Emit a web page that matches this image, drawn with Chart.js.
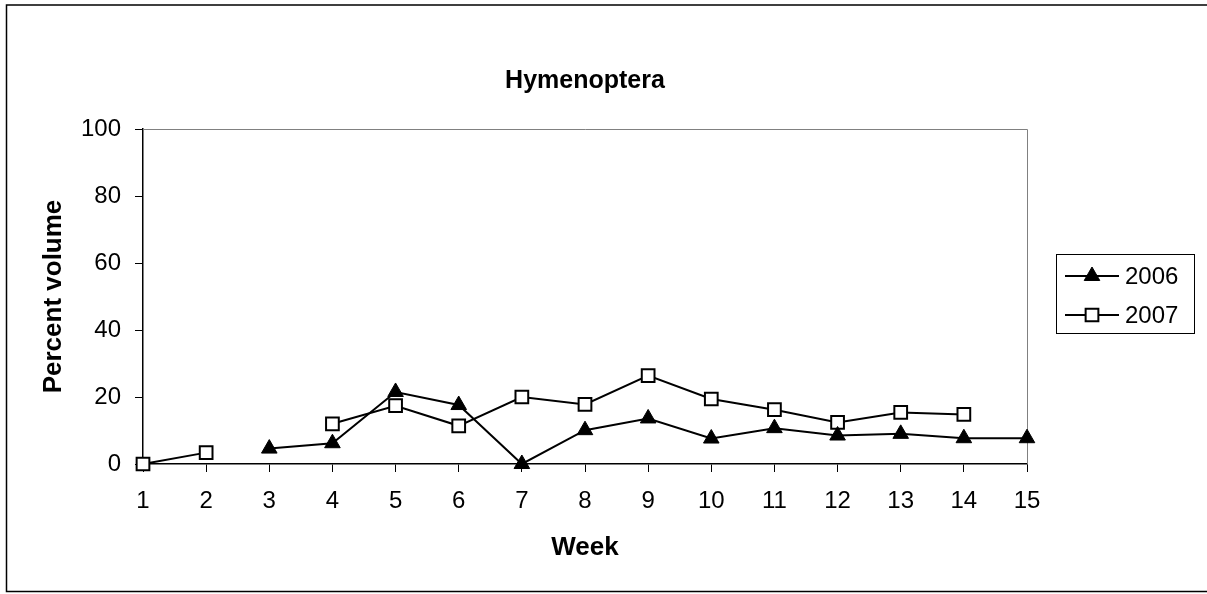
<!DOCTYPE html>
<html>
<head>
<meta charset="utf-8">
<title>Hymenoptera</title>
<script src="https://cdn.jsdelivr.net/npm/chart.js@4.4.1/dist/chart.umd.min.js"></script>
<style>
    html, body { margin: 0; padding: 0; background: #ffffff; }
    #wrap { width: 1207px; height: 594px; }
</style>
</head>
<body>
<div id="wrap"><canvas id="hymChart" width="1207" height="594"></canvas></div>
<script>
'use strict';

/* ── Data ──────────────────────────────────────────────────────────────── */

const WEEKS = ['1', '2', '3', '4', '5', '6', '7', '8', '9', '10', '11', '12', '13', '14', '15'];
const SERIES_NAMES = ['2006', '2007'];
const VALUES_2006 = [null, null, 4.6, 6.2, 21.5, 17.6, 0, 10.1, 13.6, 7.6, 10.7, 8.5, 9.0, 7.7, 7.7];
const VALUES_2007 = [0, 3.4, null, 12.0, 17.4, 11.4, 20.0, 17.8, 26.4, 19.4, 16.2, 12.4, 15.4, 14.8, null];
const Y_TICKS = [0, 20, 40, 60, 80, 100];

const FONT = '"Liberation Sans", Arial, Helvetica, sans-serif';

/* ── Frame + legend plugin ─────────────────────────────────────────────── */

// Excel-style chart: outer border, grey plot frame, boxed legend on the right
const excelFrame = {
    id: 'excelFrame',
    beforeDraw(chart) {
        const ctx = chart.ctx;
        ctx.save();
        ctx.strokeStyle = '#000';
        ctx.lineWidth = 1.5;
        ctx.strokeRect(6.5, 5, 1212, 586.5);
        ctx.restore();
    },
    beforeDatasetsDraw(chart) {
        const { ctx, chartArea: a } = chart;
        ctx.save();
        ctx.strokeStyle = '#808080';
        ctx.lineWidth = 1;
        ctx.beginPath();
        ctx.moveTo(a.left, a.top + 0.5);
        ctx.lineTo(a.right + 0.5, a.top + 0.5);
        ctx.lineTo(a.right + 0.5, a.bottom);
        ctx.stroke();
        ctx.restore();
    },
    afterDraw(chart) {
        const ctx = chart.ctx;
        ctx.save();
        ctx.strokeStyle = '#000';
        ctx.lineWidth = 1;
        ctx.strokeRect(1056.5, 254.5, 138, 79);

        chart.data.datasets.forEach((ds, i) => {
            const y = 276 + i * 39;
            ctx.strokeStyle = ds.borderColor;
            ctx.lineWidth = ds.borderWidth;
            ctx.beginPath();
            ctx.moveTo(1065, y);
            ctx.lineTo(1119, y);
            ctx.stroke();

            ctx.fillStyle = ds.pointBackgroundColor;
            ctx.strokeStyle = ds.pointBorderColor;
            ctx.lineWidth = ds.pointBorderWidth;
            Chart.helpers.drawPoint(ctx, {
                pointStyle: ds.pointStyle,
                radius: ds.pointRadius,
                borderWidth: ds.pointBorderWidth,
                rotation: 0,
            }, 1092, y);

            ctx.fillStyle = '#000';
            ctx.font = '24px ' + FONT;
            ctx.textAlign = 'left';
            ctx.textBaseline = 'middle';
            ctx.fillText(ds.label, 1125, y + 1);
        });
        ctx.restore();
    },
};

/* ── Chart ─────────────────────────────────────────────────────────────── */

const axisTicks = { color: '#000', font: { family: FONT, size: 24 }, padding: 14 };
const axisGrid = { drawOnChartArea: false, drawTicks: true, tickLength: 8, tickColor: '#000', tickWidth: 1 };
const axisBorder = { display: true, color: '#000', width: 1.5 };

new Chart(document.getElementById('hymChart'), {
    type: 'line',
    data: {
        labels: WEEKS,
        datasets: [{
            label: SERIES_NAMES[0],
            data: VALUES_2006,
            borderColor: '#000',
            borderWidth: 2,
            pointStyle: 'triangle',
            pointRadius: 9,
            pointBackgroundColor: '#000',
            pointBorderColor: '#000',
            pointBorderWidth: 1,
            tension: 0,
            clip: false,
        }, {
            label: SERIES_NAMES[1],
            data: VALUES_2007,
            borderColor: '#000',
            borderWidth: 2,
            pointStyle: 'rect',
            pointRadius: 9,
            pointBackgroundColor: '#fff',
            pointBorderColor: '#000',
            pointBorderWidth: 2,
            tension: 0,
            clip: false,
        }],
    },
    options: {
        responsive: false,
        animation: false,
        events: [],
        layout: { padding: { left: 0, top: 0, right: 180, bottom: 0 } },
        plugins: {
            legend: { display: false },
            tooltip: { enabled: false },
            title: {
                display: true,
                fullSize: false,
                text: 'Hymenoptera',
                color: '#000',
                font: { family: FONT, size: 25, weight: 'bold', lineHeight: 1.2 },
                padding: { top: 66, bottom: 33 },
            },
        },
        scales: {
            x: {
                type: 'category',
                offset: false,
                grid: axisGrid,
                border: axisBorder,
                ticks: { ...axisTicks, padding: 15, maxRotation: 0, autoSkip: false },
                title: {
                    display: true,
                    text: 'Week',
                    color: '#000',
                    font: { family: FONT, size: 26, weight: 'bold', lineHeight: 1.2 },
                    padding: { top: 0, bottom: 31 },
                },
                afterFit(scale) {
                    scale.height = 130;
                    scale.paddingLeft = 0;
                    scale.paddingRight = 0;
                },
            },
            y: {
                min: 0,
                max: 100,
                grid: axisGrid,
                border: axisBorder,
                ticks: axisTicks,
                afterBuildTicks(scale) {
                    scale.ticks = Y_TICKS.map(v => ({ value: v }));
                },
                title: {
                    display: true,
                    text: 'Percent volume',
                    color: '#000',
                    font: { family: FONT, size: 26, weight: 'bold', lineHeight: 1.2 },
                    padding: { top: 38, bottom: 0 },
                },
                afterFit(scale) {
                    scale.width = 143;
                    scale.paddingTop = 0;
                    scale.paddingBottom = 0;
                },
            },
        },
    },
    plugins: [excelFrame],
});
</script>
</body>
</html>
